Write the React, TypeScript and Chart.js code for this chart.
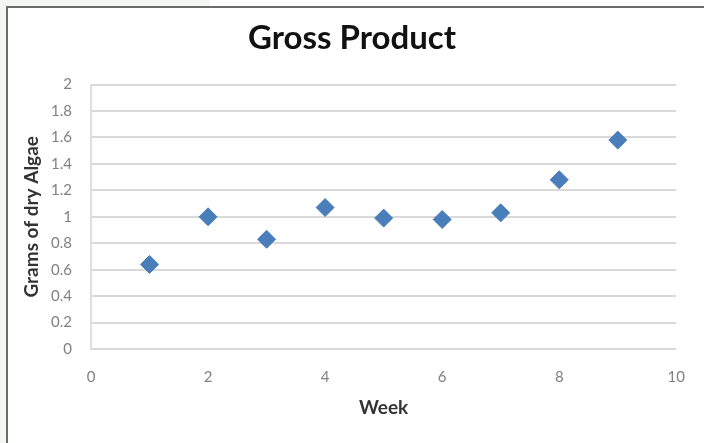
import React, { useEffect, useRef } from "react";
import { Chart, registerables } from "chart.js";

Chart.register(...registerables);

const weeks = [1, 2, 3, 4, 5, 6, 7, 8, 9];
const grams = [0.64, 1.0, 0.83, 1.07, 0.99, 0.98, 1.03, 1.28, 1.58];
const titleText = "Gross Product";
const xTitle = "Week";
const yTitle = "Grams of dry Algae";

const framePlugin = {
  id: "frame",
  beforeDraw(chart: any) {
    const { ctx, width, height } = chart;
    ctx.save();
    ctx.fillStyle = "#ffffff";
    ctx.fillRect(0, 0, width, height);
    ctx.fillStyle = "#f3f7f1";
    ctx.fillRect(0, 0, 6, height);
    ctx.fillRect(0, 0, 210, 6);
    ctx.fillStyle = "#6b6b6b";
    ctx.fillRect(6, 6, 2, height - 6);
    ctx.fillRect(6, 6, width - 6, 2);
    ctx.restore();
  },
};

export default function App() {
  const ref = useRef<HTMLCanvasElement>(null);
  useEffect(() => {
    const canvas = ref.current!;
    const chart = new Chart(canvas, {
      type: "scatter",
      data: {
        datasets: [
          {
            data: weeks.map((w, i) => ({ x: w, y: grams[i] })),
            backgroundColor: "#4a7ebb",
            borderColor: "#4a7ebb",
            pointStyle: "rectRot",
            pointRadius: 9,
            pointHoverRadius: 9,
          },
        ],
      },
      options: {
        animation: false,
        responsive: false,
        devicePixelRatio: 1,
        layout: { padding: { left: 24, right: 24, top: 10, bottom: 14 } },
        plugins: {
          legend: { display: false },
          tooltip: { enabled: false },
          title: {
            display: true,
            text: titleText,
            color: "#111111",
            font: { family: "Lato", size: 33, weight: "bold" },
            padding: { top: 9, bottom: 26 },
          },
        },
        scales: {
          x: {
            type: "linear",
            min: 0,
            max: 10,
            afterFit(scale: any) {
              scale.height = 80;
            },
            ticks: {
              stepSize: 2,
              color: "#808080",
              font: { family: "Lato", size: 15 },
              padding: 19,
            },
            grid: { display: false, drawTicks: false },
            border: { display: false },
            title: {
              display: true,
              text: xTitle,
              color: "#333333",
              font: { family: "Lato", size: 19, weight: "bold" },
              padding: { top: 0, bottom: 10 },
            },
          },
          y: {
            type: "linear",
            min: 0,
            max: 2,
            afterFit(scale: any) {
              scale.width = 67;
            },
            ticks: {
              stepSize: 0.2,
              color: "#808080",
              font: { family: "Lato", size: 15 },
              padding: 19,
              callback: (v: any) => String(Number(Number(v).toFixed(1))),
            },
            grid: { color: "#d9d9d9", lineWidth: 2, drawTicks: false },
            border: { display: true, color: "#dedede", width: 2 },
            title: {
              display: true,
              text: yTitle,
              color: "#333333",
              font: { family: "Lato", size: 19, weight: "bold" },
              padding: { top: -4, bottom: 0 },
            },
          },
        },
      },
      plugins: [framePlugin],
    });
    return () => chart.destroy();
  }, []);
  return (
    <div style={{ position: "absolute", left: 0, top: 0, width: 704, height: 443 }}>
      <canvas ref={ref} width={704} height={443} style={{ display: "block" }} />
    </div>
  );
}
